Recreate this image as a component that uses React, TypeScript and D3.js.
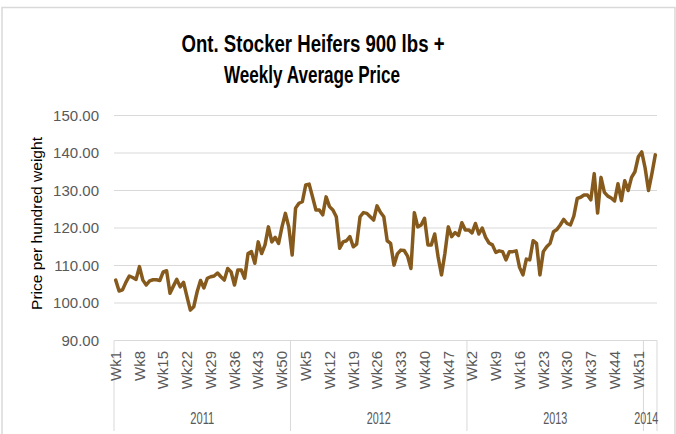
import { useMemo } from "react";
import * as d3 from "d3";

const title1 = "Ont. Stocker Heifers 900 lbs +";
const title2 = "Weekly Average Price";
const yTitle = "Price per hundred weight";

const years = ["2011", "2012", "2013", "2014"];

const prices2011 = [
  106.1, 103.2, 103.5, 105.5, 107.2, 106.8, 106.3, 109.7, 106.1, 104.8, 105.9, 106.2, 106.2,
  106.0, 108.3, 108.6, 102.6, 104.5, 106.3, 104.3, 105.5, 101.7, 98.1, 99.0, 103.0, 106.0,
  104.0, 106.6, 107.0, 107.2, 108.0, 107.0, 106.1, 109.2, 108.3, 104.8, 108.8, 108.8, 106.6,
  113.2, 113.7, 110.6, 116.3, 113.2, 115.5, 120.3, 116.3, 117.5, 115.9, 120.3, 123.9, 120.3,
];
const prices2012 = [
  112.8, 125.3, 126.6, 127.0, 131.5, 131.7, 128.3, 124.8, 124.8, 123.5, 128.3, 125.7, 124.8,
  123.0, 114.6, 116.3, 116.6, 117.7, 115.0, 115.7, 123.0, 124.1, 123.9, 123.0, 122.1, 125.9,
  124.2, 123.0, 116.6, 115.9, 110.1, 113.1, 114.1, 114.0, 112.5, 109.2, 124.1, 120.3, 120.8,
  122.6, 115.5, 115.5, 118.4, 112.3, 107.5, 113.2, 120.3, 117.7, 118.8, 118.0, 121.4, 119.5,
];
const prices2013 = [
  119.5, 118.7, 121.2, 118.4, 120.0, 117.5, 116.0, 115.5, 113.5, 113.9, 113.7, 111.5, 113.7,
  113.7, 113.9, 109.5, 107.5, 111.7, 111.5, 116.6, 115.9, 107.5, 113.7, 115.0, 115.9, 119.0,
  119.6, 120.8, 122.3, 121.2, 120.8, 123.2, 127.9, 128.2, 128.8, 128.8, 127.5, 134.5, 124.0,
  133.5, 129.5, 128.5, 128.0, 127.2, 131.8, 127.3, 132.6, 130.0, 133.5, 135.0, 139.0, 140.3,
];
const prices2014 = [136.0, 130.0, 134.5, 139.5];

const seriesByYear = [prices2011, prices2012, prices2013, prices2014];
const yTicks = [90, 100, 110, 120, 130, 140, 150];
const labelEvery = 7;

const W = 676;
const H = 434;
const plot = { left: 114, right: 657, top: 115.5, bottom: 340.5 };
const lineColor = "#865a1c";
const gridColor = "#d9d9d9";
const textColor = "#595959";
const font = "'Liberation Sans', Arial, sans-serif";
const titleFont = "'Liberation Sans Narrow', 'Liberation Sans', Arial, sans-serif";

export default function App() {
  const points = useMemo(() => {
    const rows: { key: string; week: number; year: string; value: number }[] = [];
    seriesByYear.forEach((values, yi) => {
      values.forEach((value, wi) => {
        rows.push({ key: `${years[yi]}-${wi + 1}`, week: wi + 1, year: years[yi], value });
      });
    });
    return rows;
  }, []);

  const x = d3
    .scaleBand<string>()
    .domain(points.map((p) => p.key))
    .range([plot.left, plot.right]);
  const y = d3.scaleLinear().domain([90, 150]).range([plot.bottom, plot.top]);
  const cx = (key: string) => (x(key) ?? 0) + x.bandwidth() / 2;

  const line = d3
    .line<(typeof points)[number]>()
    .x((d) => cx(d.key))
    .y((d) => y(d.value));

  // year groups on the second level of the category axis
  const groups = years.map((yr) => {
    const keys = points.filter((p) => p.year === yr).map((p) => p.key);
    const x0 = x(keys[0]) ?? 0;
    const x1 = (x(keys[keys.length - 1]) ?? 0) + x.bandwidth();
    return { yr, x0, x1 };
  });
  const separators = [plot.left, ...groups.map((g) => g.x1)];

  return (
    <svg
      width={W}
      height={H}
      style={{ position: "absolute", left: 0, top: 0, background: "#fff" }}
    >
      <rect x={2} y={7.5} width={W - 3} height={H} fill="#fff" stroke={gridColor} strokeWidth={1.5} />

      <text
        x={313}
        y={52}
        textAnchor="middle"
        fontFamily={titleFont}
        fontWeight="bold"
        fontSize={23}
        textLength={263}
        lengthAdjust="spacingAndGlyphs"
        fill="#000"
      >
        {title1}
      </text>
      <text
        x={312}
        y={83}
        textAnchor="middle"
        fontFamily={titleFont}
        fontWeight="bold"
        fontSize={23}
        textLength={176}
        lengthAdjust="spacingAndGlyphs"
        fill="#000"
      >
        {title2}
      </text>

      {yTicks.map((t) => (
        <g key={t}>
          <line x1={plot.left} x2={plot.right} y1={y(t)} y2={y(t)} stroke={gridColor} strokeWidth={1} />
          <text
            x={99}
            y={y(t)}
            dy="0.35em"
            textAnchor="end"
            fontFamily={font}
            fontSize={15}
            fill={textColor}
          >
            {d3.format(".2f")(t)}
          </text>
        </g>
      ))}

      <text
        transform={`translate(37,${(137 + 310) / 2}) rotate(-90)`}
        dy="0.35em"
        textAnchor="middle"
        fontFamily={font}
        fontSize={14}
        textLength={173}
        lengthAdjust="spacingAndGlyphs"
        fill="#000"
      >
        {yTitle}
      </text>

      {separators.map((sx, i) => (
        <line key={i} x1={sx} x2={sx} y1={plot.bottom} y2={431} stroke={gridColor} strokeWidth={1} />
      ))}

      {points.map((p, i) =>
        i % labelEvery === 0 ? (
          <text
            key={p.key}
            transform={`translate(${cx(p.key)},351) rotate(-90)`}
            dy="0.35em"
            textAnchor="end"
            fontFamily={font}
            fontSize={15}
            fill={textColor}
          >
            {`Wk${p.week}`}
          </text>
        ) : null
      )}

      {groups.map((g) => (
        <text
          key={g.yr}
          x={(g.x0 + g.x1) / 2 - (g.yr === "2014" ? 4 : 0)}
          y={424}
          textAnchor="middle"
          fontFamily={font}
          fontSize={16}
          textLength={24}
          lengthAdjust="spacingAndGlyphs"
          fill={textColor}
        >
          {g.yr}
        </text>
      ))}

      <path
        d={line(points) ?? ""}
        fill="none"
        stroke={lineColor}
        strokeWidth={3.5}
        strokeLinejoin="round"
        strokeLinecap="round"
      />
    </svg>
  );
}
